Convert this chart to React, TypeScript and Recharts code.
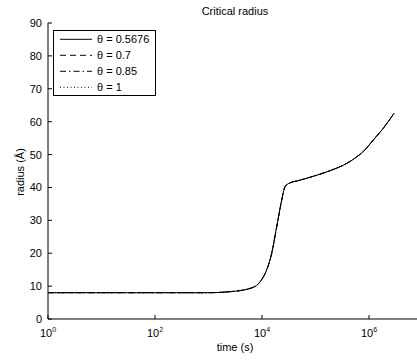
import { LineChart, Line, XAxis, YAxis, Legend } from 'recharts';

// time in seconds, radius in Å (all four θ curves coincide)
const time = [1, 10, 100, 1000, 2500, 6000, 9200, 12200, 15200, 18800, 23400, 26900, 33400, 46000, 75600, 187000, 383000, 590000, 780000, 1200000, 1850000, 2930000];
const radius = [8.0, 8.0, 8.0, 8.0, 8.3, 9.3, 11.3, 14.9, 20, 28, 36.2, 40.2, 41.4, 42.0, 43.0, 45.1, 47.3, 49.3, 50.9, 54.4, 58, 62.5];
const thetas = ['0.5676', '0.7', '0.85', '1'];
const dashes = ['', '6 4', '6 3 1.5 3', '1 2.5'];
const xTicks = [1, 100, 10000, 1000000];
const yTicks = [0, 10, 20, 30, 40, 50, 60, 70, 80, 90];

const data = time.map((t, i) => ({ t, r: radius[i] }));

const FONT = '"Liberation Sans", Arial, Helvetica, sans-serif';

const XTick = (props: any) => {
  const { x, y, payload } = props;
  const exp = Math.round(Math.log10(payload.value));
  return (
    <g>
      <line x1={x} x2={x} y1={y} y2={y - 4} stroke="#000" />
      <text x={x} y={y + 18} textAnchor="middle" fontSize={11} fontFamily={FONT} fill="#000">
        <tspan>10</tspan>
        <tspan dy={-5} fontSize={7}>{exp}</tspan>
      </text>
    </g>
  );
};

const TopTick = (props: any) => {
  const { x, y } = props;
  return <line x1={x} x2={x} y1={y} y2={y + 4} stroke="#000" />;
};

const YTick = (props: any) => {
  const { x, y, payload } = props;
  return (
    <g>
      <line x1={x} x2={x + 4} y1={y} y2={y} stroke="#000" />
      <text x={x - 6} y={y + 4} textAnchor="end" fontSize={11} fontFamily={FONT} fill="#000">
        {payload.value}
      </text>
    </g>
  );
};

const LegendBox = () => (
  <svg width={101} height={64} style={{ display: 'block' }}>
    {thetas.map((th, i) => {
      const cy = 8.3 + 16 * i;
      return (
        <g key={th}>
          <line x1={6} x2={38} y1={cy} y2={cy} stroke="#000" strokeDasharray={dashes[i] || undefined} />
          <text x={43} y={cy + 4} fontSize={11} fontFamily={FONT} fill="#000">
            {`θ = ${th}`}
          </text>
        </g>
      );
    })}
  </svg>
);

export default function App() {
  return (
    <div style={{ position: 'absolute', left: 0, top: 0, width: 417, height: 361, overflow: 'hidden', background: '#fff' }}>
      <LineChart width={430} height={361} data={data} margin={{ top: 23, right: 7.5, bottom: 0, left: 0 }}>
        <XAxis
          dataKey="t"
          type="number"
          scale="log"
          domain={[1, 10000000]}
          ticks={xTicks}
          height={42}
          tickSize={0}
          tickMargin={0}
          tick={<XTick />}
          axisLine={{ stroke: '#000' }}
          tickLine={false}
          allowDataOverflow
        />
        <XAxis
          xAxisId="top"
          dataKey="t"
          type="number"
          scale="log"
          domain={[1, 10000000]}
          ticks={xTicks}
          orientation="top"
          height={0}
          tickSize={0}
          tickMargin={0}
          tick={<TopTick />}
          axisLine={{ stroke: '#000' }}
          tickLine={false}
          allowDataOverflow
        />
        <YAxis
          type="number"
          domain={[0, 90]}
          ticks={yTicks}
          width={48}
          tickSize={0}
          tickMargin={0}
          tick={<YTick />}
          axisLine={{ stroke: '#000' }}
          tickLine={false}
        />
        <Legend
          layout="vertical"
          align="center"
          verticalAlign="middle"
          content={<LegendBox />}
          wrapperStyle={{ left: 53, top: 30, width: 103, height: 66, border: '1px solid #000', boxSizing: 'border-box', background: '#fff' }}
        />
        {thetas.map((th, i) => (
          <Line
            key={th}
            type="monotone"
            dataKey="r"
            name={`θ = ${th}`}
            stroke="#000"
            strokeWidth={1}
            strokeDasharray={dashes[i] || undefined}
            dot={false}
            activeDot={false}
            isAnimationActive={false}
          />
        ))}
        <text x={235} y={15} textAnchor="middle" fontSize={11} fontFamily={FONT} fill="#000">
          Critical radius
        </text>
        <text x={235} y={351} textAnchor="middle" fontSize={11} fontFamily={FONT} fill="#000">
          time (s)
        </text>
        <text x={24} y={172} transform="rotate(-90, 24, 172)" textAnchor="middle" fontSize={11} fontFamily={FONT} fill="#000">
          radius (Å)
        </text>
      </LineChart>
    </div>
  );
}
